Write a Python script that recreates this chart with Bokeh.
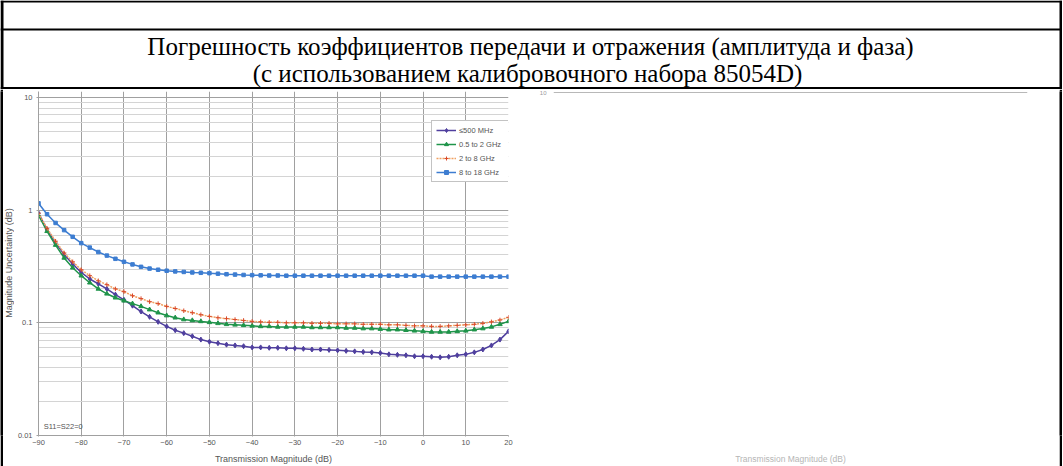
import math
from bokeh.plotting import figure
from bokeh.layouts import column, row
from bokeh.models import Range1d, FixedTicker, CustomJSTickFormatter, Label
from bokeh.core.properties import value
from bokeh.embed import file_html
from bokeh.resources import INLINE

# ---------------- data ----------------
title_lines = ["Погрешность коэффициентов передачи и отражения (амплитуда и фаза)",
               "(с использованием калибровочного набора 85054D)"]

series_names = ["\u2264500 MHz", "0.5 to 2 GHz", "2 to 8 GHz", "8 to 18 GHz"]

x_db = [-90, -88, -86, -84, -82, -80, -78, -76, -74, -72, -70, -68, -66, -64, -62, -60,
        -58, -56, -54, -52, -50, -48, -46, -44, -42, -40, -38, -36, -34, -32, -30, -28,
        -26, -24, -22, -20, -18, -16, -14, -12, -10, -8, -6, -4, -2, 0, 2, 4, 6, 8, 10,
        12, 14, 16, 18, 20]

u_500mhz = [0.94, 0.67, 0.51, 0.405, 0.333, 0.28, 0.245, 0.222, 0.2, 0.178, 0.16, 0.142,
            0.126, 0.113, 0.102, 0.093, 0.086, 0.081, 0.076, 0.071, 0.068, 0.066, 0.064,
            0.063, 0.062, 0.0605, 0.0605, 0.06, 0.06, 0.0594, 0.0594, 0.0588, 0.058, 0.058,
            0.0575, 0.057, 0.0564, 0.0558, 0.0552, 0.0547, 0.054, 0.0525, 0.052, 0.0515,
            0.0505, 0.0505, 0.05, 0.0494, 0.05, 0.0515, 0.0525, 0.0547, 0.058, 0.063,
            0.071, 0.084]

u_05_2ghz = [0.90, 0.65, 0.49, 0.377, 0.308, 0.262, 0.227, 0.2, 0.181, 0.167, 0.157, 0.148,
             0.14, 0.131, 0.123, 0.116, 0.111, 0.107, 0.105, 0.103, 0.101, 0.099, 0.097,
             0.096, 0.095, 0.094, 0.093, 0.093, 0.092, 0.092, 0.092, 0.092, 0.091, 0.091,
             0.091, 0.091, 0.09, 0.09, 0.089, 0.089, 0.088, 0.087, 0.087, 0.086, 0.085,
             0.084, 0.083, 0.083, 0.083, 0.084, 0.085, 0.087, 0.089, 0.092, 0.097, 0.103]

u_2_8ghz = [0.94, 0.69, 0.53, 0.417, 0.348, 0.296, 0.262, 0.236, 0.218, 0.2, 0.189, 0.174,
            0.164, 0.154, 0.148, 0.14, 0.134, 0.128, 0.123, 0.118, 0.114, 0.111, 0.109,
            0.107, 0.105, 0.103, 0.102, 0.101, 0.101, 0.1, 0.1, 0.1, 0.099, 0.099, 0.099,
            0.098, 0.098, 0.098, 0.097, 0.097, 0.097, 0.096, 0.096, 0.095, 0.094, 0.094,
            0.093, 0.093, 0.094, 0.095, 0.096, 0.097, 0.099, 0.102, 0.106, 0.112]

u_8_18ghz = [1.15, 0.92, 0.77, 0.665, 0.58, 0.51, 0.465, 0.425, 0.395, 0.37, 0.348, 0.33,
             0.314, 0.303, 0.296, 0.29, 0.286, 0.283, 0.28, 0.278, 0.276, 0.273, 0.27,
             0.268, 0.266, 0.265, 0.264, 0.263, 0.263, 0.262, 0.262, 0.262, 0.262, 0.262,
             0.262, 0.262, 0.262, 0.262, 0.262, 0.262, 0.262, 0.262, 0.262, 0.262, 0.262,
             0.262, 0.257, 0.257, 0.257, 0.257, 0.257, 0.257, 0.257, 0.257, 0.257, 0.257]

x_ticks = [-90, -80, -70, -60, -50, -40, -30, -20, -10, 0, 10, 20]
y_ticks = [0.01, 0.1, 1, 10]
y_minor = [0.02, 0.03, 0.04, 0.05, 0.06, 0.07, 0.08, 0.09,
           0.2, 0.3, 0.4, 0.5, 0.6, 0.7, 0.8, 0.9,
           2, 3, 4, 5, 6, 7, 8, 9]

x_title = "Transmission Magnitude (dB)"
y_title = "Magnitude Uncertainty (dB)"
note = "S11=S22=0"
phase_ticks = [10]

SANS = "Liberation Sans"
SERIF = "Liberation Serif"

W = 1062
H_TOP = 89
H_BODY = 377
BORDER_TOP = 2      # frame top at page y 91
BORDER_BOTTOM = 30  # frame bottom at page y 436


def blank(width, height, xr, yr):
    f = figure(width=width, height=height, x_range=Range1d(*xr), y_range=Range1d(*yr),
               x_axis_type=None, y_axis_type=None, min_border=0,
               output_backend="svg", toolbar_location=None)
    f.grid.visible = False
    f.outline_line_color = None
    return f


def black_strip(width):
    f = blank(width, H_BODY, (0, 1), (0, 1))
    f.background_fill_color = "black"
    f.border_fill_color = "black"
    return f


# ---------------- header (table rows + title) ----------------
pa = blank(W, H_TOP, (0, W), (H_TOP, 0))
pa.segment(x0=[0, 0, 0], y0=[1, 29, 87.5], x1=[W, W, W], y1=[1, 29, 87.5],
           line_color="black", line_width=2)
pa.segment(x0=[1.5, 1060.5], y0=[0, 0], x1=[1.5, 1060.5], y1=[H_TOP, H_TOP],
           line_color="black", line_width=3)
pa.text(x=[530, 527], y=[46, 73], text=title_lines, text_align="center",
        text_baseline="middle", text_font=value(SERIF), text_font_size="25px",
        text_color="black")

# ---------------- left strips: table border, y axis title ----------------
sl = black_strip(3)
st = blank(11, H_BODY, (3, 14), (436, 91))
st.min_border_top = BORDER_TOP
st.min_border_bottom = BORDER_BOTTOM
st.text(x=[8.5], y=[263], text=[y_title], angle=math.pi / 2, text_align="center",
        text_baseline="middle", text_font=value(SANS), text_font_size="9px",
        text_color="#555555")

# ---------------- left chart: magnitude uncertainty ----------------
pb = figure(width=514, height=H_BODY, x_range=Range1d(-90, 20),
            y_range=Range1d(0.01, 11.3), y_axis_type="log", output_backend="svg",
            toolbar_location=None, min_border_left=24, min_border_right=20,
            min_border_top=BORDER_TOP, min_border_bottom=BORDER_BOTTOM)
pb.outline_line_color = None
pb.border_fill_color = "white"

xt = FixedTicker(ticks=x_ticks)
yt = FixedTicker(ticks=y_ticks, minor_ticks=y_minor)
pb.xaxis.ticker = xt
pb.xgrid.ticker = xt
pb.yaxis.ticker = yt
pb.ygrid.ticker = yt
pb.yaxis.formatter = CustomJSTickFormatter(code="return tick.toString();")

pb.xgrid.grid_line_color = "#a0a0a0"
pb.ygrid.grid_line_color = "#a0a0a0"
pb.ygrid.minor_grid_line_color = "#d4d4d4"

for ax in (pb.xaxis, pb.yaxis):
    ax.axis_line_color = "#a0a0a0"
    ax.major_tick_line_color = "#a0a0a0"
    ax.minor_tick_line_color = None
    ax.major_tick_in = 0
    ax.major_label_text_font = SANS
    ax.major_label_text_font_size = "7.5px"
    ax.major_label_text_color = "#555555"
    ax.axis_label_text_font = SANS
    ax.axis_label_text_font_size = "9px"
    ax.axis_label_text_font_style = "normal"
    ax.axis_label_text_color = "#555555"
pb.xaxis.major_tick_out = 1
pb.xaxis.major_label_standoff = 3
pb.xaxis.axis_label_standoff = 6
pb.yaxis.major_tick_out = 2
pb.yaxis.major_label_standoff = 2
pb.xaxis.axis_label = x_title

styles = [
    (u_500mhz, "#4f3f9e", "#4f3f9e", "diamond", 5, "solid"),
    (u_05_2ghz, "#1f944a", "#1f944a", "triangle", 4.5, "solid"),
    (u_2_8ghz, "#f0a060", "#d9482a", "cross", 4.5, "2 1"),
    (u_8_18ghz, "#3d7dd1", "#3d7dd1", "square", 3.5, "solid"),
]
for (vals, lc, mc, mk, ms, dash), name in zip(styles, series_names):
    pb.line(x_db, vals, line_color=lc, line_width=1.5, line_dash=dash, legend_label=name)
    pb.scatter(x_db, vals, marker=mk, size=ms, fill_color=mc, line_color=mc,
               line_width=1, legend_label=name)

lg = pb.legend[0]
lg.location = (393, 253)
lg.label_text_font = SANS
lg.label_text_font_size = "7.5px"
lg.label_text_color = "#555555"
lg.glyph_width = 20
lg.glyph_height = 10
lg.label_height = 10
lg.label_width = 46
lg.spacing = 4
lg.padding = 4
lg.margin = 0
lg.label_standoff = 3
lg.border_line_color = "#888888"
lg.background_fill_color = "white"
lg.background_fill_alpha = 1

pb.add_layout(Label(x=-88.8, y=0.0121, text=note, text_font=SANS,
                    text_font_size="7.5px", text_color="#555555", text_baseline="middle"))

# ---------------- right chart: faded phase chart ----------------
pc = figure(width=531, height=H_BODY, x_range=Range1d(-90, 20), y_range=Range1d(0, 10.03),
            output_backend="svg", toolbar_location=None,
            min_border_left=25, min_border_right=32,
            min_border_top=BORDER_TOP, min_border_bottom=BORDER_BOTTOM)
pc.outline_line_color = None
pc.xgrid.visible = False
pt = FixedTicker(ticks=phase_ticks)
pc.yaxis.ticker = pt
pc.ygrid.ticker = pt
pc.ygrid.grid_line_color = "#b8b8b8"
pc.yaxis.axis_line_color = None
pc.yaxis.major_tick_line_color = None
pc.yaxis.minor_tick_line_color = None
pc.yaxis.major_label_standoff = 1
pc.yaxis.major_label_text_font = SANS
pc.yaxis.major_label_text_font_size = "6px"
pc.yaxis.major_label_text_color = "#9a9a9a"
pc.xaxis.ticker = FixedTicker(ticks=[])
pc.xaxis.axis_line_color = None
pc.xaxis.major_tick_line_color = None
pc.xaxis.minor_tick_line_color = None
pc.xaxis.axis_label = x_title
pc.xaxis.axis_label_text_font = SANS
pc.xaxis.axis_label_text_font_size = "8.5px"
pc.xaxis.axis_label_text_font_style = "normal"
pc.xaxis.axis_label_text_color = "#b5b5b5"
pc.xaxis.axis_label_standoff = 18

# ---------------- right border strip ----------------
sr = black_strip(3)

layout = column(pa, row(sl, st, pb, pc, sr))
open("out.html", "w").write(file_html(layout, INLINE))
